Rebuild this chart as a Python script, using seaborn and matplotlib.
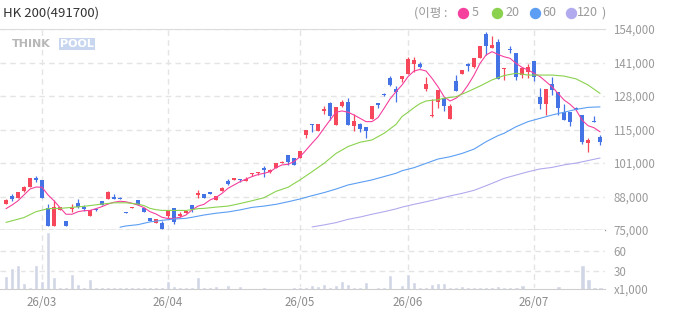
import matplotlib
matplotlib.use("Agg")
import matplotlib.pyplot as plt
from matplotlib.lines import Line2D
import numpy as np
import seaborn as sns

# daily candles (trading day index 0..99)
opens = [85200, 88500, 87700, 90300, 92000, 95400, 94700, 83700, 76400, 82900,
         78500, 83300, 85600, 84200, 80600, 83400, 86400, 87300, 88000, 87600,
         82100, 83800, 86800, 83700, 79700, 77900, 77800, 80500, 83700, 80600,
         81800, 84800, 88600, 89200, 89800, 86900, 90500, 94400, 94800, 95000,
         94400, 97000, 97300, 99200, 97900, 99200, 101300, 104500, 103200, 103400,
         112300, 116800, 113900, 121600, 124900, 116300, 123900, 125300, 115900, 116500,
         115500, 118600, 124800, 128300, 134900, 130400, 134400, 136300, 140400, 140200,
         130600, 119700, 125400, 126800, 118800, 133600, 136400, 140200, 138900, 142700,
         152000, 146700, 149000, 138300, 146000, 144400, 135900, 137200, 141400, 127300,
         124700, 132400, 129200, 121300, 121300, 122800, 120200, 109300, 117500, 111600]
closes = [86800, 87200, 89800, 91800, 95300, 94500, 87500, 76400, 83900, 84000,
          76400, 83800, 83900, 83400, 82700, 82700, 85000, 89800, 87300, 87300,
          81600, 84000, 84800, 82200, 78700, 79300, 75500, 82700, 78300, 81300,
          82600, 83300, 89400, 87700, 89200, 88500, 91400, 93100, 95400, 94700,
          95000, 97400, 97800, 98600, 98500, 101300, 101700, 101900, 100600, 106100,
          114300, 116400, 116700, 122600, 119900, 123300, 125400, 116400, 117800, 114800,
          114000, 123700, 124100, 127900, 131900, 129400, 135400, 142300, 141900, 139200,
          132400, 120200, 130000, 123900, 123700, 129800, 137900, 139600, 142500, 147500,
          147500, 147700, 134500, 138500, 145700, 135300, 138500, 139200, 135300, 124700,
          130400, 130200, 123100, 118200, 117500, 122000, 109600, 110200, 117400, 109600]
highs = [87300, 89200, 90100, 92400, 95300, 96200, 94700, 85400, 86800, 84000,
         78500, 85200, 87100, 84800, 82700, 83800, 86400, 90300, 89000, 88000,
         82100, 84000, 86800, 83700, 79700, 79300, 78500, 82700, 83700, 82000,
         82600, 84800, 90700, 89200, 89800, 88500, 91900, 94900, 95400, 95000,
         95800, 97400, 97800, 100200, 99000, 101300, 102100, 104500, 103200, 106100,
         114300, 116800, 116700, 123700, 125200, 123300, 126000, 126900, 120500, 117200,
         115500, 123700, 124800, 128800, 135500, 131500, 135400, 142900, 142900, 141000,
         135100, 126600, 130000, 127400, 124500, 135900, 137900, 140800, 142500, 147500,
         153000, 151200, 149900, 138500, 147500, 144400, 138900, 140200, 141400, 130800,
         130400, 135000, 129200, 124700, 121300, 123500, 120200, 111000, 119800, 112300]
lows = [85200, 86500, 87500, 90100, 92000, 93900, 87500, 76400, 76400, 82900,
        76400, 82000, 83500, 82600, 80600, 82300, 85000, 87300, 87300, 87300,
        81600, 83800, 84800, 82200, 78700, 77900, 75500, 79300, 77400, 80000,
        81800, 82200, 87700, 87700, 89200, 86900, 90500, 92800, 94800, 94000,
        94400, 96400, 96500, 96000, 97400, 99200, 101300, 100600, 100600, 103400,
        111300, 113400, 113900, 120600, 118100, 116300, 123300, 116400, 114000, 113700,
        111000, 118600, 123100, 127500, 131600, 125400, 133300, 136300, 137200, 138800,
        129800, 119300, 122800, 121900, 118800, 129800, 136400, 137600, 138500, 142700,
        143800, 146700, 134500, 134000, 144400, 134000, 134600, 134600, 133700, 122400,
        120200, 128200, 120100, 118200, 115900, 122000, 108800, 105800, 117400, 108400]

# volume, x1,000
volume = [23, 34.5, 39, 12.5, 6.5, 39, 15, 87, 21, 5.5,
          5.5, 26, 11, 5.5, 18.5, 5.5, 5.5, 5.5, 5.5, 5.5,
          5.5, 5.5, 5.5, 5.5, 5.5, 5.5, 6.5, 15, 8, 6.5,
          6.5, 6.5, 21, 5.5, 5.5, 7, 5, 9.5, 5, 8,
          5, 5, 5, 6.5, 5, 5, 5, 5, 6.5, 6.5,
          6.5, 9.5, 8, 11, 6.5, 9.5, 15, 11, 6.5, 6.5,
          14, 5, 6.5, 5.5, 24, 5, 9.5, 26, 13, 5.5,
          6.5, 11, 12.5, 12.5, 5.5, 5.5, 8, 5.5, 5.5, 6.5,
          5.5, 5.5, 8, 5.5, 5.5, 6.5, 9.5, 5, 5, 5,
          5, 5, 8, 5, 5, 5, 39, 18.5, 6.5, 6.5]

# moving averages
ma5 = [83400, 84800, 86500, 88800, 91100, 91900, 91800, 88800, 86500, 83800,
       81200, 81200, 82200, 82600, 82700, 83400, 84200, 85200, 85900, 86300,
       86100, 85500, 84800, 83800, 82200, 81300, 80000, 79500, 79600, 80000,
       80900, 82900, 84400, 85100, 86800, 87800, 89400, 91400, 92700, 94000,
       95000, 96000, 96800, 97300, 97900, 99500, 100600, 100800, 101900, 103800,
       106400, 109100, 111700, 115000, 118200, 121300, 121800, 121300, 120200, 118900,
       117600, 117600, 119200, 122800, 126500, 129400, 132000, 135300, 137500, 138100,
       137500, 134600, 131300, 127400, 125700, 126800, 128700, 132000, 135900, 140500,
       143800, 145100, 144000, 143100, 142500, 140500, 138900, 137900, 136600, 135300,
       133300, 131300, 128700, 126100, 124400, 122200, 118200, 116000, 115200, 113600]
ma20_idx = [0, 3, 5, 7, 9, 11, 13, 16, 18, 20, 22, 23, 24, 25, 26, 28, 30, 31, 32, 33,
            35, 37, 39, 41, 43, 45, 47, 49, 51, 53, 55, 57, 59, 61, 63, 65, 66, 67, 68, 69,
            70, 71, 72, 73, 74, 75, 77, 79, 81, 83, 85, 87, 89, 91, 93, 95, 97, 99]
ma20 = [78000, 79900, 82200, 83400, 83500, 83900, 84300, 85200, 85700, 85700,
        85200, 84600, 83500, 83000, 82700, 82700, 82700, 83000, 83400, 83500,
        84000, 84400, 85400, 86500, 87700, 90200, 91800, 94700, 97900, 101200,
        105100, 107800, 109500, 110400, 113000, 116500, 119600, 121300, 123100, 124700,
        125700, 126000, 126200, 126800, 127100, 127400, 129400, 131600, 134000, 135700,
        136600, 135900, 135900, 135900, 135500, 134400, 132000, 128700]
ma60_idx = [19, 20, 22, 24, 26, 28, 30, 31, 33, 35, 37, 39, 41, 43, 45, 47, 49, 51, 53, 55,
            57, 59, 61, 63, 65, 66, 68, 70, 72, 74, 76, 78, 80, 82, 83, 85, 87, 89, 91, 93,
            95, 97, 99]
ma60 = [76100, 76600, 77100, 78200, 78800, 79300, 79600, 80000, 80900, 81600,
        82100, 82900, 83900, 84400, 85100, 86100, 87200, 88500, 89700, 91100,
        92700, 93700, 94700, 96000, 97300, 98300, 99500, 101200, 102900, 103800,
        105100, 106800, 109700, 112100, 113000, 115600, 117600, 118900, 120200, 121300,
        122400, 123200, 123400]
ma120_idx = [51, 53, 55, 57, 59, 61, 63, 65, 66, 68, 70, 72, 74, 76, 78, 80, 82, 83, 85, 87,
             89, 91, 93, 95, 97, 99]
ma120 = [76200, 77000, 77900, 79200, 80100, 81200, 82200, 83300, 84000, 85100,
         86100, 87200, 88400, 89400, 90600, 92400, 94300, 95300, 96600, 97900,
         99000, 99600, 100600, 101300, 102300, 103300]

month_pos = [6, 27, 49, 67, 88]
month_labels = ["26/03", "26/04", "26/05", "26/06", "26/07"]
price_labels = ["75,000", "88,000", "101,000", "115,000", "128,000", "141,000", "154,000"]

sns.set_style("white")
plt.rcParams['font.family'] = ['Noto Sans CJK KR', 'DejaVu Sans']

RED = '#f7485b'
BLUE = '#4473e6'
C5, C20, C60, C120 = '#f5409e', '#8ad24e', '#5b9ef3', '#b1aaee'
GRID = '#e4e4e4'
TXT = '#9a9a9a'

fig = plt.figure(figsize=(6.73, 3.15), dpi=100)
ax = fig.add_axes([0, 0.2698, 0.899, 0.6381])
axv = fig.add_axes([0, 0.0825, 0.899, 0.1873])

idx = np.arange(len(closes))
o = np.array(opens)
c = np.array(closes)
cols = np.where(c >= o, RED, BLUE)

# candles
ax.vlines(idx, lows, highs, colors=cols, linewidth=0.9, zorder=3)
ax.bar(idx, np.maximum(np.abs(c - o), 300), bottom=np.minimum(o, c),
       width=0.72, color=cols, linewidth=0, zorder=3)

# moving averages
sns.lineplot(x=idx, y=ma5, ax=ax, color=C5, linewidth=0.8, estimator=None, zorder=4)
sns.lineplot(x=ma20_idx, y=ma20, ax=ax, color=C20, linewidth=0.8, estimator=None, zorder=4)
sns.lineplot(x=ma60_idx, y=ma60, ax=ax, color=C60, linewidth=0.8, estimator=None, zorder=4)
sns.lineplot(x=ma120_idx, y=ma120, ax=ax, color=C120, linewidth=0.8, estimator=None, zorder=4)

# volume
sns.barplot(x=idx, y=volume, ax=axv, native_scale=True, color='#d0d6e6',
            saturation=1, width=0.82, zorder=2)

for a in (ax, axv):
    a.set_xlim(-1, 99.83)
    a.set_xticks(month_pos)
    a.set_xlabel("")
    a.set_ylabel("")
    a.grid(True, which='major', linestyle=(0, (4, 3)), color=GRID, linewidth=1)
    a.set_axisbelow(True)
    a.yaxis.tick_right()
    for s in a.spines.values():
        s.set_visible(False)

ax.set_ylim(75000, 154000)
ax.set_yticks(np.linspace(75000, 154000, 7))
ax.set_yticklabels(price_labels)
ax.tick_params(axis='y', length=0, pad=6, labelsize=8.3, labelcolor=TXT)
ax.tick_params(axis='x', length=0, labelbottom=False)
ax.spines['top'].set_visible(True)
ax.spines['top'].set_color('#dcdcdc')
ax.spines['bottom'].set_visible(True)
ax.spines['bottom'].set_color('#9c9c9c')
ax.spines['bottom'].set_linestyle((0, (3, 2)))
ax.spines['bottom'].set_linewidth(1)

axv.set_ylim(3.0, 90.6)
axv.set_yticks([30, 60])
axv.set_yticklabels(["30", "60"])
axv.set_yticks([3.0], minor=True)
axv.set_yticklabels(["x1,000"], minor=True)
axv.tick_params(axis='y', which='both', length=0, pad=6, labelsize=8.3, labelcolor=TXT)
axv.set_xticklabels(month_labels)
axv.tick_params(axis='x', length=0, pad=5, labelsize=8.3, labelcolor='#8c8c8c')
axv.spines['bottom'].set_visible(True)
axv.spines['bottom'].set_color('#cfcfcf')

# header
fig.text(3 / 673, 1 - 13 / 315, "HK 200(491700)", fontsize=9.5, color='#333333',
         ha='left', va='center')
ly = 1 - 13 / 315
fig.text(414 / 673, ly, "(이평 :", fontsize=9, color=TXT, ha='left', va='center')
for xd, xt, col, lab in [(463, 472, C5, "5"), (497, 505, C20, "20"),
                         (535, 542, C60, "60"), (571, 577, C120, "120")]:
    fig.add_artist(Line2D([xd / 673], [ly], marker='o', markersize=7.2, color=col,
                          linestyle='none', transform=fig.transFigure))
    fig.text(xt / 673, ly, lab, fontsize=9, color=TXT, ha='left', va='center')
fig.text(601 / 673, ly, ")", fontsize=9, color=TXT, ha='left', va='center')

# watermark
fig.text(12 / 673, 1 - 44 / 315, "THINK", fontsize=8, fontweight='bold',
         color='#b8b8b8', ha='left', va='center', family='DejaVu Sans')
fig.text(60 / 673, 1 - 44 / 315, "POOL", fontsize=8, fontweight='bold', color='white',
         ha='left', va='center', family='DejaVu Sans',
         bbox=dict(facecolor='#c8d7ef', edgecolor='none', pad=0.6))

fig.savefig("out.png", dpi=100)
